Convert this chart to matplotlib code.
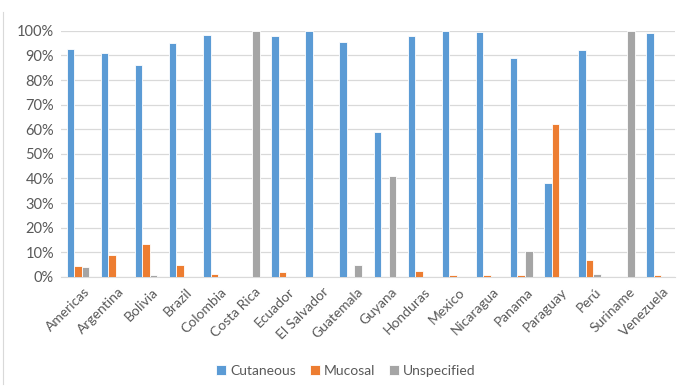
import matplotlib
matplotlib.use("Agg")
import matplotlib.pyplot as plt
import matplotlib.transforms as mtransforms
import numpy as np
from matplotlib.ticker import PercentFormatter

plt.rcParams["font.family"] = ["Lato", "DejaVu Sans"]

countries = ["Americas", "Argentina", "Bolivia", "Brazil", "Colombia", "Costa Rica",
             "Ecuador", "El Salvador", "Guatemala", "Guyana", "Honduras", "Mexico",
             "Nicaragua", "Panama", "Paraguay", "Perú", "Suriname", "Venezuela"]
cutaneous = [92.5, 91.0, 86.0, 95.0, 98.5, 0.0, 98.0, 100.0, 95.5, 59.0, 98.0, 100.0,
             99.5, 89.0, 38.0, 92.0, 0.0, 99.3]
mucosal = [4.5, 9.0, 13.5, 5.0, 1.3, 0.0, 2.0, 0.0, 0.0, 0.0, 2.2, 0.6,
           0.6, 0.6, 62.0, 7.0, 0.0, 0.6]
unspecified = [4.0, 0.0, 0.7, 0.0, 0.0, 100.0, 0.0, 0.0, 5.0, 41.0, 0.0, 0.0,
               0.0, 10.5, 0.0, 1.2, 100.0, 0.0]

series = [("Cutaneous", cutaneous, "#5b9bd5"),
          ("Mucosal", mucosal, "#ed7d31"),
          ("Unspecified", unspecified, "#a5a5a5")]

fig = plt.figure(figsize=(6.92, 3.90), dpi=100)
ax = fig.add_axes([0.088, 0.29, 0.887, 0.631])

x = np.arange(len(countries))
step = 0.22
for i, (name, vals, color) in enumerate(series):
    ax.bar(x + (i - 1) * step, np.array(vals) / 100, width=step,
           color=color, edgecolor="white", linewidth=0.6, label=name, zorder=3)

ax.set_xlim(-0.5, len(countries) - 0.5)
ax.set_ylim(0, 1.0)
ax.set_yticks(np.linspace(0, 1, 11))
ax.yaxis.set_major_formatter(PercentFormatter(1.0, decimals=0))
ax.grid(axis="y", color="#d9d9d9", lw=0.9, zorder=0)
for s in ("top", "right", "left"):
    ax.spines[s].set_visible(False)
ax.spines["bottom"].set_color("#d9d9d9")
ax.tick_params(axis="y", length=0, labelsize=10.5, colors="#595959", pad=5)
ax.tick_params(axis="x", length=0, labelsize=10, colors="#595959", pad=3)
ax.set_xticks(x)
ax.set_xticklabels(countries, rotation=45, ha="right", rotation_mode="anchor")

# nudge the slanted country names a little right and down
nudge = mtransforms.ScaledTranslation(0.055, -0.045, fig.dpi_scale_trans)
for lbl in ax.get_xticklabels():
    lbl.set_transform(lbl.get_transform() + nudge)

fig.legend(loc="center", bbox_to_anchor=(0.5, 0.049), ncol=3, frameon=False,
           fontsize=10, handlelength=0.7, handleheight=0.7, handletextpad=0.3,
           columnspacing=1.0, labelcolor="#595959")

# faint chart-area border on the left
fig.add_artist(plt.Line2D([0.0045, 0.0045], [0.015, 0.968], color="#d9d9d9", lw=0.8))

fig.savefig("out.png", dpi=100, facecolor="white")
